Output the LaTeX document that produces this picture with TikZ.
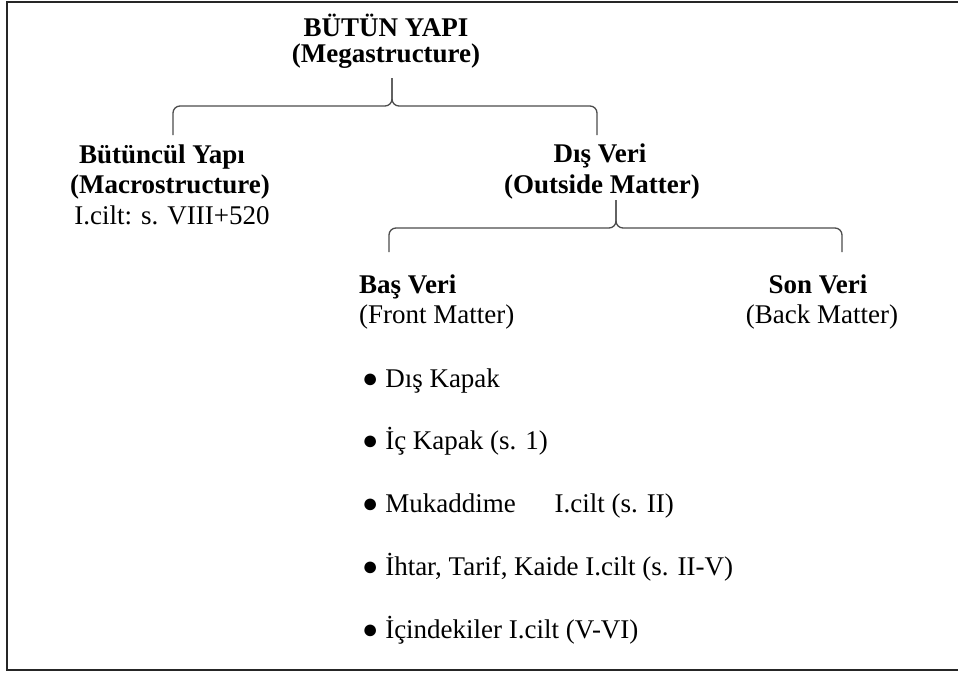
\documentclass[tikz,border=0pt]{standalone}
\usepackage{fontspec}
\setmainfont{Liberation Serif}
\newcommand{\bigtxt}{\fontsize{27}{29}\selectfont}

\begin{document}
\begin{tikzpicture}[x=1pt, y=-1pt,
    head/.style={font=\bigtxt\bfseries, inner sep=0pt, anchor=base},
    plain/.style={font=\bigtxt, inner sep=0pt, anchor=base},
    brace/.style={black!70, line width=1.3pt, rounded corners=7pt}]
  \useasboundingbox (0,0) rectangle (958,672);
  % Frame (right side is cut off)
  \draw[black!85, line width=2pt] (958,2) -- (7,2) -- (7,670) -- (958,670);

  % Megastructure
  \node[head] (mega) at (386,36) {BÜTÜN YAPI};
  \node[head] (megaen) at (386,62) {(Megastructure)};

  % first brace
  \coordinate (b1tip) at (392,78);
  \coordinate (b1mid) at (392,106);
  \coordinate (b1l) at (173,135);
  \coordinate (b1r) at (597,135);
  \draw[brace] (b1l) |- (b1mid) -- (b1tip);
  \draw[brace] (b1r) |- (b1mid) -- (b1tip);

  % Macrostructure
  \node[head] (macro) at (162,163) {Bütüncül Yapı};
  \node[head] (macroen) at (170,193) {(Macrostructure)};
  \node[plain] (macrovol) at (172,224) {I.cilt: s. VIII+520};

  % Outside matter
  \node[head] (outside) at (600,162) {Dış Veri};
  \node[head] (outsideen) at (602,193) {(Outside Matter)};

  % second brace
  \coordinate (b2tip) at (616,200);
  \coordinate (b2mid) at (616,228);
  \coordinate (b2l) at (389,252);
  \coordinate (b2r) at (842,252);
  \draw[brace] (b2l) |- (b2mid) -- (b2tip);
  \draw[brace] (b2r) |- (b2mid) -- (b2tip);

  % Front and back matter
  \node[head, anchor=base west] (front) at (359,293) {Baş Veri};
  \node[plain, anchor=base west] (fronten) at (359,323) {(Front Matter)};
  \node[head] (back) at (818,293) {Son Veri};
  \node[plain] (backen) at (822,323) {(Back Matter)};

  % items of the front matter
  \foreach \yb/\txt [count=\k] in {387/Dış Kapak, 449/İç Kapak (s. 1),
      512/{Mukaddime\hspace{39pt}I.cilt (s. II)},
      575/{İhtar, Tarif, Kaide I.cilt (s. II-V)},
      638/İçindekiler I.cilt (V-VI)}
    \node[plain, anchor=base west] (item\k) at (362,\yb) {● \txt};
\end{tikzpicture}
\end{document}
